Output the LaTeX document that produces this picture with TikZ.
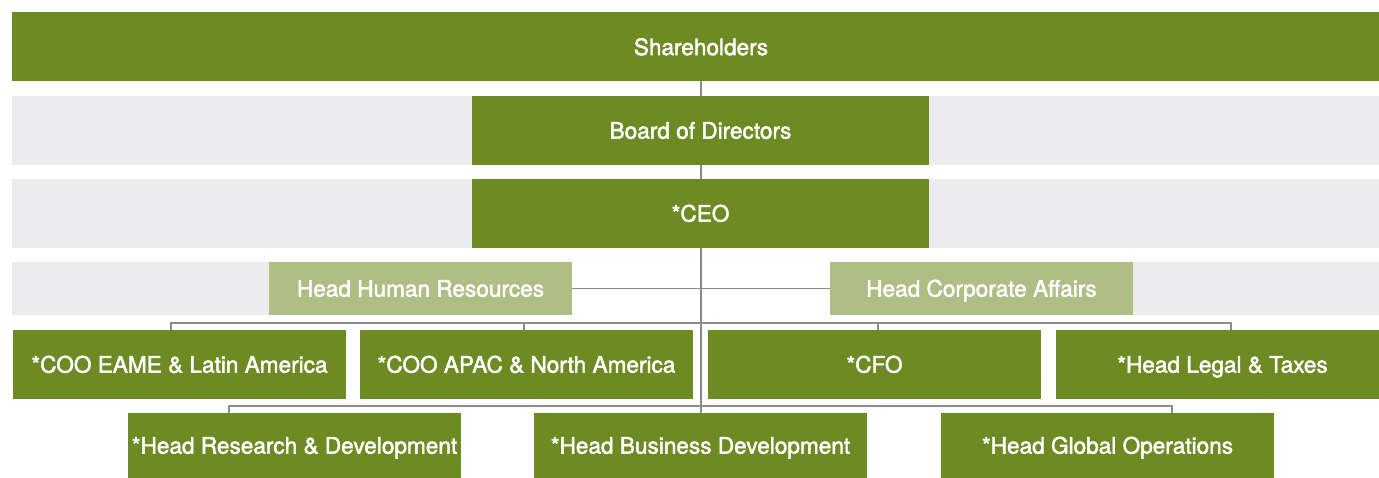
\documentclass[tikz,border=0pt]{standalone}
\usepackage{fontspec}
\setmainfont[FakeBold=2]{TeX Gyre Heros}
\definecolor{leafgreen}{RGB}{109,139,35}
\definecolor{sagegreen}{RGB}{174,190,132}
\definecolor{bandgray}{RGB}{236,236,238}
\definecolor{wiregray}{RGB}{140,140,140}
\begin{document}
\begin{tikzpicture}[x=1pt,y=-1pt,
  label/.style={text=white,inner sep=0pt,text height=16.2pt,text depth=0pt,
    font=\fontsize{22.6}{26}\selectfont},
  unit/.style={label,fill=leafgreen},
  staff/.style={label,fill=sagegreen},
  band/.style={fill=bandgray},
  wire/.style={draw=wiregray,line width=1.2pt}]
\useasboundingbox (0,0) rectangle (1379,478);

% grey background bands
\fill[band] (12,96) rectangle (1379,165);
\fill[band] (12,179) rectangle (1379,248);
\fill[band] (12,262) rectangle (269,315);
\fill[band] (1133,262) rectangle (1379,315);

% boxes
\node[unit,minimum width=1367pt,minimum height=69pt] (sh) at (695.5,46.5) {};
\node[label] (shtext) at (701,47) {Shareholders};
\node[unit,minimum width=457pt,minimum height=69pt] (bd) at (700.5,130.5) {Board of Directors};
\node[unit,minimum width=457pt,minimum height=69pt] (ceo) at (700.5,213.5) {*CEO};
\node[staff,minimum width=303pt,minimum height=53pt] (hr) at (420.5,288.5) {Head Human Resources};
\node[staff,minimum width=303pt,minimum height=53pt] (ca) at (981.5,288.5) {Head Corporate Affairs};

\node[unit,minimum width=333pt,minimum height=69pt] (cooe) at (179.5,364.5) {*COO EAME \& Latin America};
\node[unit,minimum width=333pt,minimum height=69pt] (cooa) at (526.5,364.5) {*COO APAC \& North America};
\node[unit,minimum width=333pt,minimum height=69pt] (cfo) at (874.5,364.5) {*CFO};
\node[unit,minimum width=323pt,minimum height=69pt] (legal) at (1217.5,364.5) {};
\node[label] (legaltext) at (1222.5,364.5) {*Head Legal \& Taxes};

\node[unit,minimum width=333pt,minimum height=65pt] (rd) at (294.5,445.5) {*Head Research \& Development};
\node[unit,minimum width=333pt,minimum height=65pt] (bizdev) at (700.5,445.5) {*Head Business Development};
\node[unit,minimum width=333pt,minimum height=65pt] (ops) at (1107.5,445.5) {*Head Global Operations};

% connector junctions
\coordinate (spine) at (701,81);
\coordinate (b1) at (171,323);
\coordinate (b2) at (524,323);
\coordinate (b3) at (878,323);
\coordinate (b4) at (1231,323);
\coordinate (c1) at (229,406);
\coordinate (c3) at (1172,406);

% connectors
\draw[wire] (spine) -- (spine |- bd.north);
\draw[wire] (spine |- bd.south) -- (spine |- ceo.north);
\draw[wire] (spine |- ceo.south) -- (spine |- bizdev.north);
\draw[wire] (hr.east) -- (ca.west);
\draw[wire] (b1 |- cooe.north) -- (b1) -- (b4) -- (b4 |- legal.north);
\draw[wire] (b2) -- (b2 |- cooa.north);
\draw[wire] (b3) -- (b3 |- cfo.north);
\draw[wire] (c1 |- rd.north) -- (c1) -- (c3) -- (c3 |- ops.north);
\end{tikzpicture}
\end{document}
